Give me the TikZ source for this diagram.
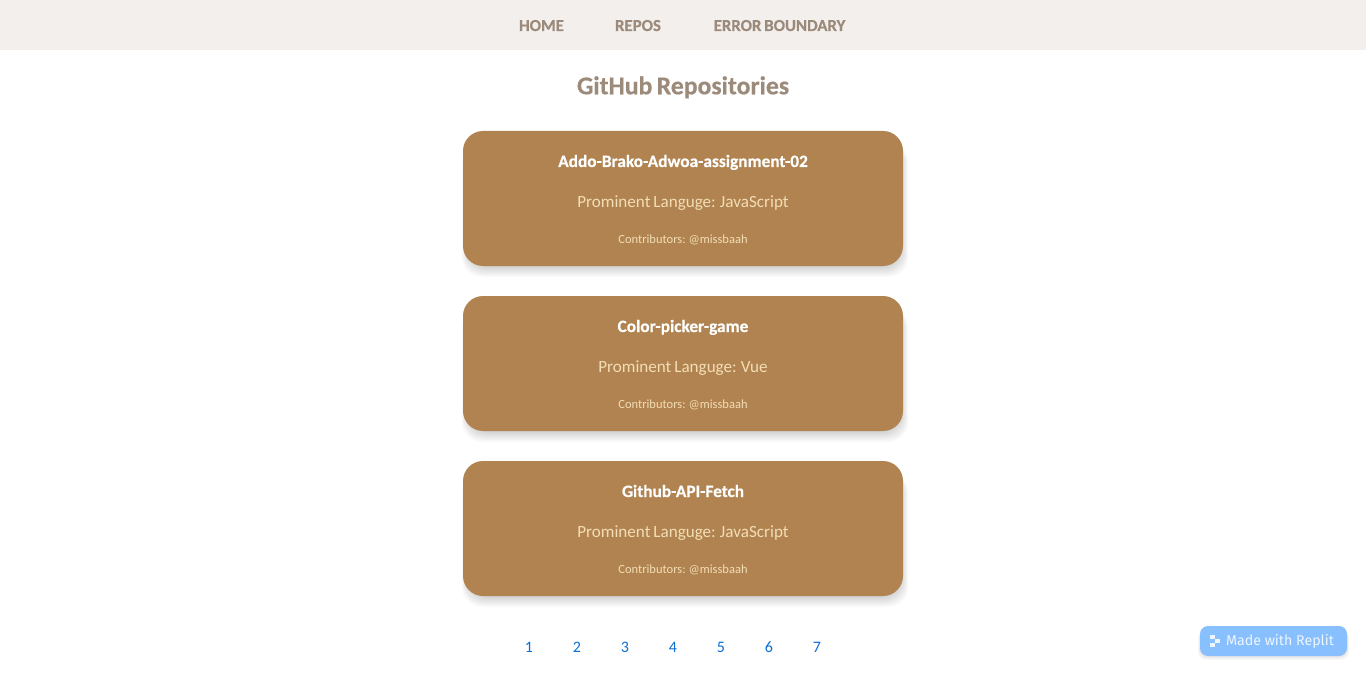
\documentclass[tikz,border=0pt]{standalone}
\usepackage{xcolor}
\usepackage{fontspec}
\setmainfont[WordSpace=0.75,BoldFeatures={FakeBold=0.4}]{Carlito}
\newfontfamily\replitfont{Fira Sans}
\usetikzlibrary{positioning}
\definecolor{navbg}{HTML}{F3EFEC}
\definecolor{navtext}{HTML}{9C8A7B}
\definecolor{cardbg}{HTML}{B08350}
\definecolor{cardtext}{HTML}{F3DDB5}
\definecolor{pagelink}{HTML}{0B6FD6}
\definecolor{replitbg}{HTML}{88BFFF}
\tikzset{
  label/.style = {anchor=base, inner sep=0pt, outer sep=0pt},
  navlink/.style = {label, text=navtext, font=\fontsize{16.8}{18}\selectfont\bfseries},
  heading/.style = {label, text=navtext, font=\fontsize{25.7}{28}\selectfont\bfseries},
  card/.style = {rectangle, rounded corners=20pt, fill=cardbg, minimum width=440pt, minimum height=135pt, inner sep=0pt},
  cardtitle/.style = {label, text=white, font=\fontsize{17.3}{19}\selectfont\bfseries},
  cardlang/.style = {label, text=cardtext, font=\fontsize{17.1}{19}\selectfont},
  cardby/.style = {label, text=cardtext, font=\fontsize{12.5}{14}\selectfont},
  pagenum/.style = {label, text=pagelink, font=\fontsize{16}{18}\selectfont},
  replit/.style = {rectangle, rounded corners=8pt, fill=replitbg, minimum width=147pt, minimum height=30pt, inner sep=0pt},
  dot/.style = {rectangle, fill=white!85!replitbg, minimum width=5pt, minimum height=4pt, inner sep=0pt},
}
\begin{document}
\begin{tikzpicture}[x=1pt,y=-1pt]
  \useasboundingbox (0,0) rectangle (1366,682);
  \fill[white] (0,0) rectangle (1366,682);
  % top bar
  \node[rectangle, fill=navbg, minimum width=1366pt, minimum height=50pt, inner sep=0pt] (Bar) at (683,25) {};
  \node[navlink] (Home) at (541.5,31) {HOME};
  \node[navlink] (Repos) at (638,31) {REPOS};
  \node[navlink] (Boundary) at (779.5,31) {ERROR BOUNDARY};
  \node[heading] (Heading) at (683,94.3) {GitHub Repositories};
  % cards
  \foreach \name/\ypos/\title/\lang in {A/131/Addo-Brako-Adwoa-assignment-02/JavaScript, B/296/Color-picker-game/Vue, C/461/Github-API-Fetch/JavaScript} {
    \foreach \i in {1,...,12}
      \fill[black, opacity=0.014, rounded corners=20pt] (463+6-0.6*\i,\ypos+12) rectangle (903-3+0.7*\i,\ypos+135-1+\i);
    \node[card] (Card\name) at (683,\ypos+67.5) {};
    \node[cardtitle] (Title\name) at (683,\ypos+36) {\title};
    \node[cardlang] (Lang\name) at (683,\ypos+76.5) {Prominent Languge: \lang};
    \node[cardby] (By\name) at (683,\ypos+112.3) {Contributors: @missbaah};
  }
  % pagination
  \foreach \n in {1,...,7}
    \node[pagenum] (Page\n) at (529+48*\n-48,652) {\n};
  % replit badge
  \foreach \i in {1,...,4}
    \fill[black, opacity=0.025, rounded corners=8pt] (1200-\i/2,630) rectangle (1347+\i/2,656+\i);
  \node[replit] (Badge) at (1273.5,641) {};
  \node[dot] (DotA) at (1212.5,637) {};
  \node[dot] (DotB) at (1217.5,641) {};
  \node[dot] (DotC) at (1212.5,645) {};
  \node[label, text=white!85!replitbg, font=\fontsize{14.2}{16}\selectfont\replitfont] (Made) at (1280,645.5) {Made with Replit};
\end{tikzpicture}
\end{document}
